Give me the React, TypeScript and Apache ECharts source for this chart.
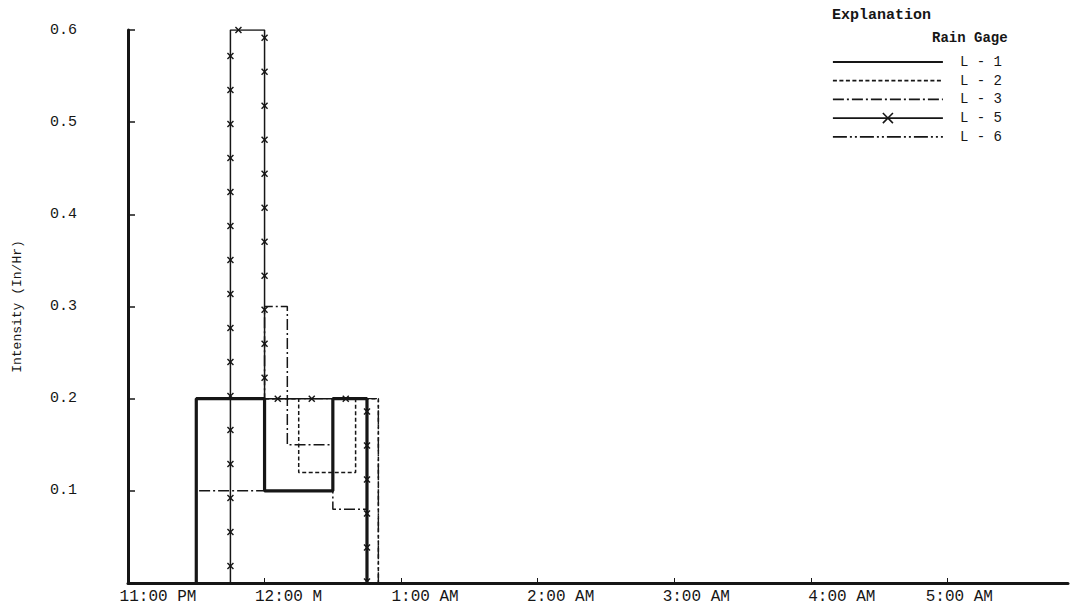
import React, { useEffect, useRef } from "react";
import * as echarts from "echarts";

// Time is measured in minutes after 11:00 PM.
const HOUR_LABELS = ["11:00 PM", "12:00 M", "1:00 AM", "2:00 AM", "3:00 AM", "4:00 AM", "5:00 AM"];
const X_MAX = 413;

// Rain gage step records: interval boundaries (minutes) and intensity (in/hr) in each interval
const L1_BOUNDS = [30, 60, 90, 105];
const L1_VALUES = [0.2, 0.1, 0.2];

const L2_BOUNDS = [30, 75, 100, 110];
const L2_VALUES = [0.2, 0.12, 0.2];

const L3_BOUNDS = [30, 60, 70, 90, 105];
const L3_VALUES = [0.1, 0.3, 0.15, 0.08];

const L5_BOUNDS = [45, 60, 105];
const L5_VALUES = [0.6, 0.2];

const L6_BOUNDS = [30, 110];
const L6_VALUES = [0.2];

const stepData = (bounds: number[], values: number[]) => {
  const d: number[][] = [[bounds[0], 0]];
  values.forEach((v, i) => d.push([bounds[i], v]));
  d.push([bounds[bounds.length - 1], 0]);
  return d;
};

const MONO = "Liberation Mono";
const INK = "#161616";
const X_PATH = "path://M0,1L1,0L5,4L9,0L10,1L6,5L10,9L9,10L5,6L1,10L0,9L4,5Z";

// horizontal nudges of the typed hour labels (px to the right of the tick)
const LABEL_NUDGE = [30, 24, 24, 23, 22, 31, 12];

export default function App() {
  const ref = useRef<HTMLDivElement>(null);
  useEffect(() => {
    if (!ref.current) return;
    const chart = echarts.init(ref.current, null, { renderer: "svg" });
    const rich: Record<string, any> = {};
    LABEL_NUDGE.forEach((n, i) => {
      rich["l" + i] = { fontFamily: MONO, fontSize: 16, color: INK, padding: [0, 0, 0, 2 * n] };
    });

    const l5Path = stepData(L5_BOUNDS, L5_VALUES);
    const hiddenSymbol = { symbol: "circle", showSymbol: false, itemStyle: { color: INK, opacity: 0 } };

    const option: any = {
      animation: false,
      backgroundColor: "#ffffff",
      title: [
        { text: "Explanation", left: 832, top: 8, padding: 0, textStyle: { fontFamily: MONO, fontSize: 15, fontWeight: "bold", color: INK } },
        { text: "Rain Gage", left: 932, top: 31, padding: 0, textStyle: { fontFamily: MONO, fontSize: 14, fontWeight: "bold", color: INK } },
      ],
      legend: {
        data: ["L - 1", "L - 2", "L - 3", "L - 5", "L - 6"],
        orient: "vertical",
        left: 832,
        top: 55,
        padding: 0,
        itemWidth: 110,
        itemHeight: 14,
        itemGap: 4.7,
        lineStyle: { width: 1.8 },
        textStyle: { fontFamily: MONO, fontSize: 14, color: INK, padding: [0, 0, 0, 12] },
        selectedMode: false,
      },
      grid: { left: 128, right: 13, top: 30, bottom: 29, containLabel: false },
      xAxis: {
        type: "value",
        min: 0,
        max: X_MAX,
        interval: 60,
        axisLine: { lineStyle: { color: INK, width: 3 } },
        axisTick: { inside: true, length: 5, lineStyle: { color: INK, width: 1 } },
        splitLine: { show: false },
        axisLabel: {
          margin: 6,
          showMaxLabel: false,
          formatter: (v: number) => {
            const i = Math.round(v / 60);
            if (Math.abs(v - i * 60) > 1e-6 || i >= HOUR_LABELS.length) return "";
            return `{l${i}|${HOUR_LABELS[i]}}`;
          },
          rich,
        },
      },
      yAxis: {
        type: "value",
        min: 0,
        max: 0.6,
        interval: 0.1,
        name: "Intensity (In/Hr)",
        nameLocation: "middle",
        nameGap: 104,
        nameRotate: 90,
        nameTextStyle: { fontFamily: MONO, fontSize: 13, color: INK },
        axisLine: { show: true, lineStyle: { color: INK, width: 3 } },
        axisTick: { show: true, inside: true, length: 7, lineStyle: { color: INK, width: 1.5 } },
        splitLine: { show: false },
        axisLabel: {
          margin: 51,
          fontFamily: MONO,
          fontSize: 15,
          color: INK,
          formatter: (v: number) => (v === 0 ? "" : v.toFixed(1)),
        },
      },
      series: [
        {
          name: "L - 6",
          type: "line",
          step: "end",
          data: stepData(L6_BOUNDS, L6_VALUES),
          ...hiddenSymbol,
          color: INK,
          lineStyle: { color: INK, width: 1.4, type: [14, 3, 2, 3, 2, 3] },
          z: 2,
        },
        {
          name: "L - 2",
          type: "line",
          step: "end",
          data: stepData(L2_BOUNDS, L2_VALUES),
          ...hiddenSymbol,
          color: INK,
          lineStyle: { color: INK, width: 1.5, type: [4, 2.5] },
          z: 3,
        },
        {
          name: "L - 3",
          type: "line",
          step: "end",
          data: stepData(L3_BOUNDS, L3_VALUES),
          ...hiddenSymbol,
          color: INK,
          lineStyle: { color: INK, width: 1.5, type: [11, 3, 2, 3] },
          z: 4,
        },
        {
          name: "L - 5",
          type: "line",
          step: "end",
          data: l5Path,
          symbol: X_PATH,
          symbolSize: 7,
          showSymbol: false,
          color: INK,
          itemStyle: { color: INK },
          lineStyle: { color: INK, width: 1.5 },
          z: 5,
        },
        {
          name: "L - 1",
          type: "line",
          step: "end",
          data: stepData(L1_BOUNDS, L1_VALUES),
          ...hiddenSymbol,
          color: INK,
          lineStyle: { color: INK, width: 3.2 },
          z: 6,
        },
        {
          name: "L-5 marks",
          type: "custom",
          silent: true,
          z: 7,
          data: [[0, 0]],
          renderItem: (params: any, api: any) => {
            // walk along the L-5 step outline and place "x" marks every ~34 px
            const pts: number[][] = [];
            for (let i = 0; i < l5Path.length; i++) {
              const p = l5Path[i];
              if (i > 0) {
                const prev = l5Path[i - 1];
                pts.push(api.coord([p[0], prev[1]]));
              }
              pts.push(api.coord(p));
            }
            const children: any[] = [];
            const step = 34;
            let carry = step / 2;
            const s = 3;
            for (let i = 1; i < pts.length; i++) {
              const [x0, y0] = pts[i - 1];
              const [x1, y1] = pts[i];
              const len = Math.hypot(x1 - x0, y1 - y0);
              if (len < 0.5) continue;
              let d = carry;
              while (d <= len) {
                const x = x0 + ((x1 - x0) * d) / len;
                const y = y0 + ((y1 - y0) * d) / len;
                children.push({ type: "line", shape: { x1: x - s, y1: y - s, x2: x + s, y2: y + s }, style: { stroke: INK, lineWidth: 1.4 } });
                children.push({ type: "line", shape: { x1: x + s, y1: y - s, x2: x - s, y2: y + s }, style: { stroke: INK, lineWidth: 1.4 } });
                d += step;
              }
              carry = d - len;
            }
            return { type: "group", children };
          },
        },
      ],
    };
    chart.setOption(option);
    return () => chart.dispose();
  }, []);
  return <div ref={ref} style={{ position: "absolute", left: 0, top: 0, width: 1081, height: 612 }} />;
}
